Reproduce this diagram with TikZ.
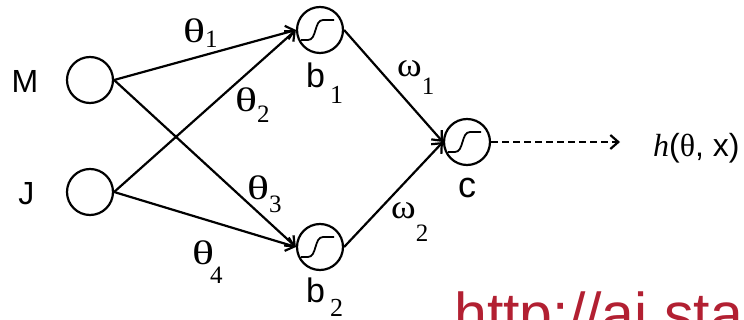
\documentclass[tikz,border=0pt]{standalone}
\usepackage{fontspec}
\setmainfont{Liberation Sans}
\newfontfamily\greekfont{Liberation Serif}
\usetikzlibrary{arrows.meta}
\definecolor{urlred}{RGB}{178,32,50}
\newcommand{\wlabel}[5]{{\greekfont\fontsize{34}{34}\selectfont\scalebox{#5}[1]{#1}}\hspace{#4pt}\raisebox{-#3pt}{\greekfont\fontsize{25}{25}\selectfont #2}}

\begin{document}
\begin{tikzpicture}[x=1pt,y=-1pt]
        \useasboundingbox (0,0) rectangle (744,320);
        \clip (0,0) rectangle (744,320);
        \tikzset{VertexStyle/.style={circle,draw,line width=2.2pt,minimum size=46pt,inner sep=0pt},
                 SigmoidStyle/.style={VertexStyle,path picture={\draw[line width=1.8pt,shift={(path picture bounding box.center)}]
                   (-19pt,-10pt) -- (-12pt,-10pt) .. controls (-3pt,-10pt) and (-6pt,10pt) .. (3pt,10pt) -- (14pt,10pt);}},
                 EdgeStyle/.style={line width=2.2pt,-{Straight Barb[length=8pt,width=14pt,line width=2.2pt]}},
                 LabelStyle/.style={anchor=base west,inner sep=0pt}}
        % inputs
        \node[VertexStyle] (M) at (90,80) {};
        \node[VertexStyle] (J) at (90,192) {};
        \node[anchor=east,font=\fontsize{32}{32}\selectfont] (lM) at ([xshift=-24pt,yshift=-1.5pt]M.west) {M};
        \node[anchor=east,font=\fontsize{32}{32}\selectfont] (lJ) at ([xshift=-28pt,yshift=-2pt]J.west) {J};
        % hidden and output units
        \node[SigmoidStyle] (b1) at (320,30) {};
        \node[SigmoidStyle] (b2) at (320,247) {};
        \node[SigmoidStyle] (c) at (467,142) {};
        \node[LabelStyle,font=\fontsize{34}{34}\selectfont] (lb1) at (306,88) {b\hspace{5pt}\raisebox{-16pt}{\greekfont\fontsize{26}{26}\selectfont 1}};
        \node[LabelStyle,font=\fontsize{34}{34}\selectfont] (lb2) at (306,302) {b\hspace{5pt}\raisebox{-14pt}{\greekfont\fontsize{26}{26}\selectfont 2}};
        \node[LabelStyle,font=\fontsize{36}{36}\selectfont] (lc) at (458,198) {c};
        \coordinate (out) at (620,142);
        \node[LabelStyle,font=\fontsize{32}{32}\selectfont] (h) at (653,157) {{\greekfont\itshape h}({\greekfont θ}, x)};
        % weights
        \node[LabelStyle] (t1) at (183,43) {\wlabel{θ}{1}{5}{0}{1.35}};
        \node[LabelStyle] (t2) at (235,112) {\wlabel{θ}{2}{11}{0}{1.35}};
        \node[LabelStyle] (t3) at (247,200) {\wlabel{θ}{3}{13}{0}{1.35}};
        \node[LabelStyle] (t4) at (192,265) {\wlabel{θ}{4}{19}{-4}{1.35}};
        \node[LabelStyle] (w1) at (397,77) {\wlabel{ω}{1}{18}{0}{1.1}};
        \node[LabelStyle] (w2) at (391,219) {\wlabel{ω}{2}{23}{0}{1.1}};
        \draw[EdgeStyle] (M.east) -- (b1.west);
        \draw[EdgeStyle] (M.east) -- (b2.west);
        \draw[EdgeStyle] (J.east) -- (b1.west);
        \draw[EdgeStyle] (J.east) -- (b2.west);
        \draw[EdgeStyle] (b1.east) -- (c.west);
        \draw[EdgeStyle] (b2.east) -- (c.west);
        \draw[EdgeStyle,dash pattern=on 7pt off 4pt] (c.east) -- (out);
        % source
        \node[LabelStyle,text=urlred,font=\fontsize{59}{59}\selectfont] (url) at (454,334) {http://ai.sta};
\end{tikzpicture}
\end{document}
